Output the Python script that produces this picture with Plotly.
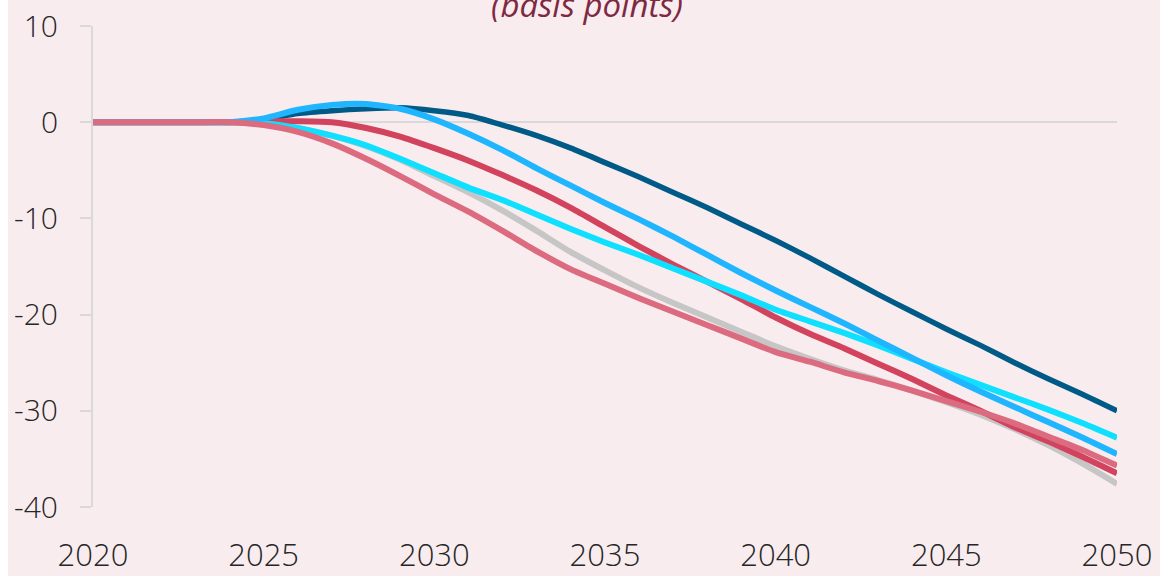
import plotly.graph_objects as go

years = list(range(2020, 2051))

series_names = ["Grey", "Dark blue", "Red", "Cyan", "Light blue", "Pink"]

grey = [0, 0, 0, 0, 0, -0.1, -0.6, -1.4, -2.5, -3.9,
        -5.6, -7.3, -9.2, -11.3, -13.5, -15.4, -17.2, -18.8, -20.3, -21.8,
        -23.3, -24.6, -25.8, -26.8, -27.9, -29.1, -30.4, -31.9, -33.6, -35.5, -37.6]
dark_blue = [0, 0, 0, 0, 0, 0.3, 0.9, 1.2, 1.4, 1.5,
             1.2, 0.7, -0.3, -1.4, -2.7, -4.2, -5.7, -7.3, -8.9, -10.6,
             -12.3, -14.1, -16.0, -17.9, -19.7, -21.5, -23.2, -25.0, -26.7, -28.3, -30.0]
red = [0, 0, 0, 0, 0, 0.1, 0.1, 0.0, -0.6, -1.5,
       -2.7, -4.0, -5.5, -7.1, -8.9, -10.9, -12.9, -14.8, -16.6, -18.4,
       -20.3, -22.0, -23.5, -25.1, -26.7, -28.4, -30.0, -31.7, -33.2, -34.8, -36.5]
cyan = [0, 0, 0, 0, 0, -0.1, -0.6, -1.4, -2.4, -3.8,
        -5.3, -6.8, -8.1, -9.6, -11.1, -12.5, -13.8, -15.2, -16.6, -18.0,
        -19.5, -20.7, -21.9, -23.2, -24.6, -26.0, -27.3, -28.6, -29.9, -31.3, -32.8]
light_blue = [0, 0, 0, 0, 0, 0.4, 1.3, 1.8, 1.9, 1.4,
              0.3, -1.2, -2.9, -4.8, -6.6, -8.4, -10.1, -11.9, -13.8, -15.7,
              -17.5, -19.2, -20.9, -22.7, -24.5, -26.3, -28.0, -29.6, -31.2, -32.8, -34.5]
pink = [0, 0, 0, 0, 0, -0.3, -1.0, -2.2, -3.8, -5.6,
        -7.5, -9.3, -11.3, -13.4, -15.3, -16.8, -18.3, -19.7, -21.1, -22.5,
        -23.9, -24.9, -26.0, -26.9, -27.9, -29.0, -30.1, -31.3, -32.7, -34.1, -35.7]

y_ticks = [10, 0, -10, -20, -30, -40]
x_ticks = [2020, 2025, 2030, 2035, 2040, 2045, 2050]
subtitle = "(basis points)"

values = [grey, dark_blue, red, cyan, light_blue, pink]
colors = ["#c6c6c6", "#005a87", "#d2435e", "#10e0ff", "#1fb6ff", "#dc6b80"]
widths = [6, 5.5, 6, 6, 6, 6]

BG = "#f9ecef"
AX = "#d9d9d9"
FONT = "'Open Sans', 'Noto Sans', sans-serif"
TXT = "#262626"

fig = go.Figure()
for name, vals, col, w in zip(series_names, values, colors, widths):
    fig.add_trace(go.Scatter(
        x=years, y=vals, mode="lines", name=name,
        line=dict(color=col, width=w, shape="spline", smoothing=0.6),
        showlegend=False, hoverinfo="skip"))

fig.update_layout(
    width=1160, height=576,
    margin=dict(l=85, r=51, t=26, b=69, autoexpand=False),
    paper_bgcolor=BG, plot_bgcolor=BG,
    font=dict(family=FONT, color=TXT),
    showlegend=False,
)

fig.update_xaxes(
    range=[2020, 2050], tickvals=x_ticks, ticktext=[str(t) for t in x_ticks],
    showgrid=False, showline=False, zeroline=False, ticks="", automargin=False,
    tickfont=dict(size=31, color=TXT, weight=300), ticklabelstandoff=27,
)
fig.update_yaxes(
    range=[-40, 10], tickvals=y_ticks, ticktext=[str(t) for t in y_ticks],
    showgrid=False, showline=True, linecolor=AX, linewidth=2, automargin=False,
    zeroline=True, zerolinecolor=AX, zerolinewidth=2,
    ticks="outside", ticklen=11, tickcolor=AX, tickwidth=2,
    tickfont=dict(size=30, color=TXT, weight=300), ticklabelstandoff=16,
)

fig.add_annotation(
    text="<i>" + subtitle + "</i>", xref="paper", yref="paper",
    x=0.4824, y=1.0447, xanchor="center", yanchor="middle", showarrow=False,
    font=dict(size=33, color="#7e2942", family=FONT),
)

# page: white 8px strip at left (body margin), figure flush with the top
fig.write_html("out.html",
               post_script="document.body.style.margin='0px 0px 0px 8px';")
